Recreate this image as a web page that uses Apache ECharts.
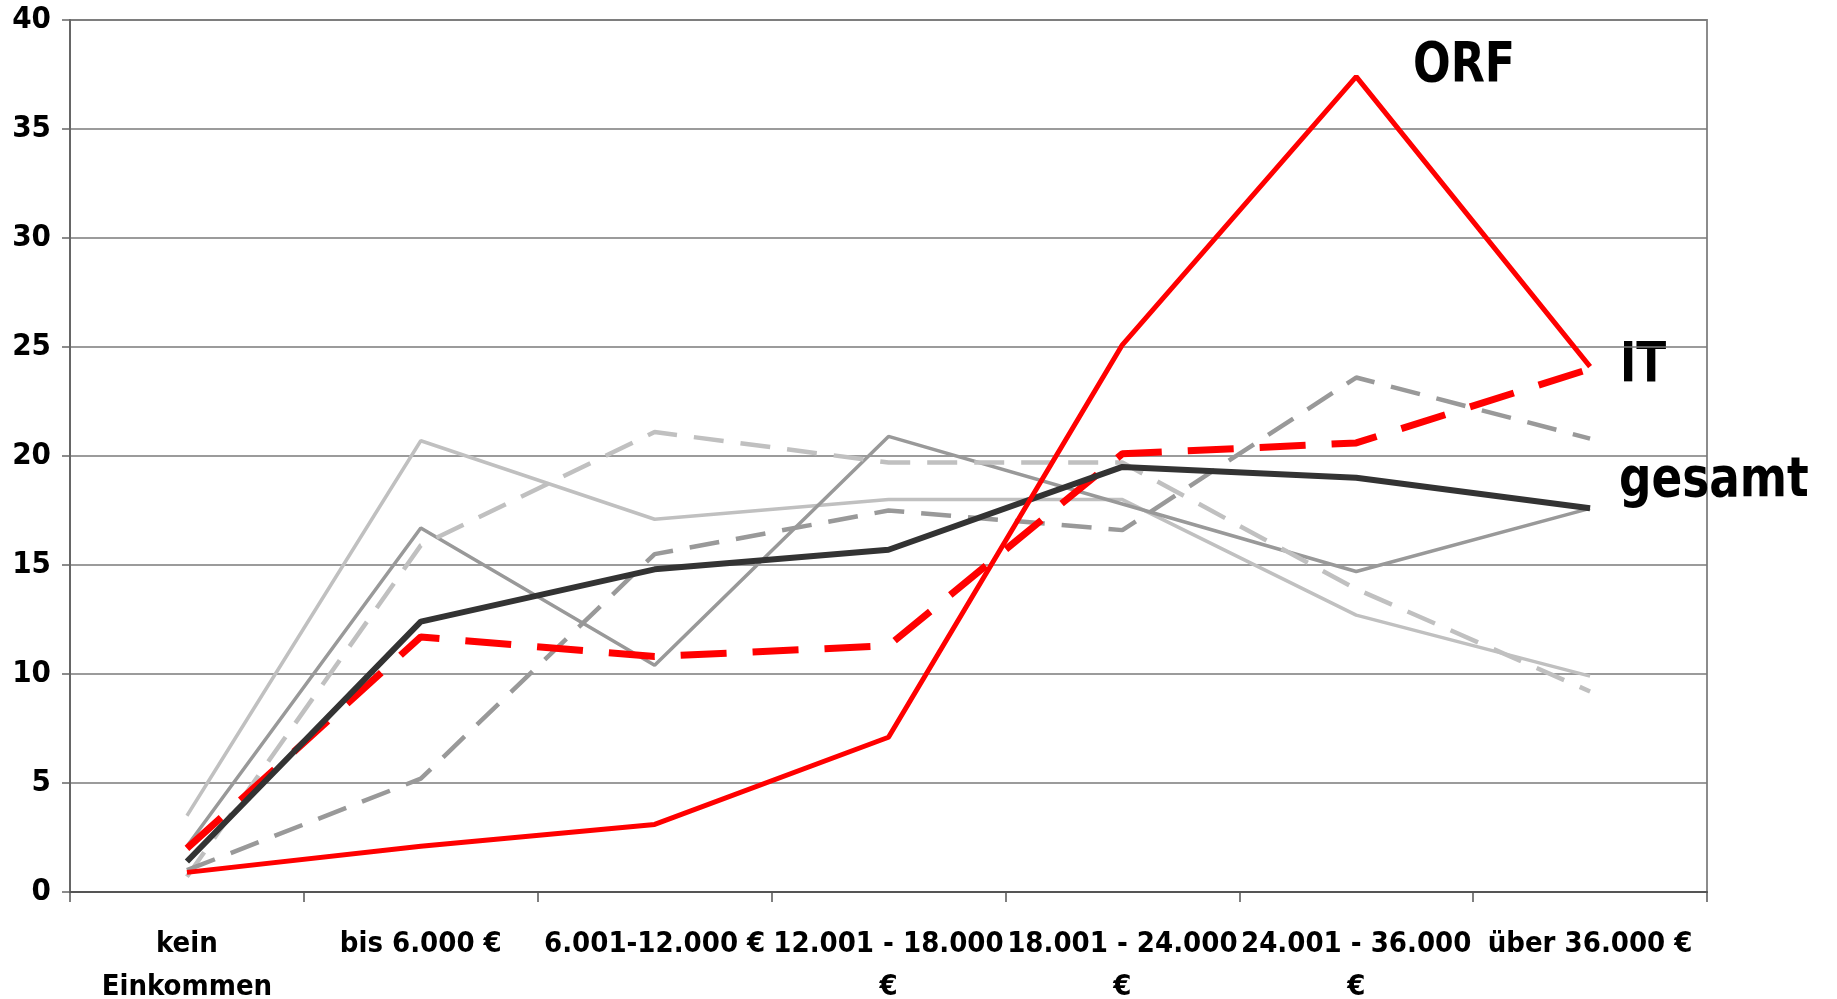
<!DOCTYPE html>
<html>
<head>
<meta charset="utf-8">
<script src="https://cdn.jsdelivr.net/npm/echarts@6/dist/echarts.min.js"></script>
<style>
  html, body { margin: 0; padding: 0; background: #fff; }
  #chart { width: 1837px; height: 999px; }
</style>
</head>
<body>
<div id="chart"></div>
<script>
const categories = ['kein\nEinkommen', 'bis 6.000 €', '6.001-12.000 €', '12.001 - 18.000\n€', '18.001 - 24.000\n€', '24.001 - 36.000\n€', 'über 36.000 €'];
const yTicks = [0, 5, 10, 15, 20, 25, 30, 35, 40];

const orf            = [0.9, 2.1, 3.1, 7.1, 25.1, 37.4, 24.1];
const it             = [2.0, 11.7, 10.8, 11.3, 20.1, 20.6, 24.0];
const gesamt         = [1.4, 12.4, 14.8, 15.7, 19.5, 19.0, 17.6];
const grayLightSolid = [3.5, 20.7, 17.1, 18.0, 18.0, 12.7, 9.9];
const grayMidSolid   = [2.1, 16.7, 10.4, 20.9, 17.8, 14.7, 17.6];
const grayLightDash  = [0.7, 15.9, 21.1, 19.7, 19.7, 13.9, 9.2];
const grayMidDash    = [1.0, 5.2, 15.5, 17.5, 16.6, 23.6, 20.8];

const seriesLabels = ['ORF', 'IT', 'gesamt'];

const FONT = "'DejaVu Sans Condensed', 'DejaVu Sans', sans-serif";

function line(name, data, color, width, type, z) {
  return {
    name, type: 'line', data, symbol: 'none', z,
    lineStyle: { color, width, type: type || 'solid' },
    emphasis: { disabled: true }, silent: true, animation: false
  };
}

function bigLabel(text, x, y, sx) {
  return { type: 'text', x, y, scaleX: sx, style: { text, font: `bold 56px ${FONT}`, fill: '#000', verticalAlign: 'top' } };
}

const chart = echarts.init(document.getElementById('chart'), null, { renderer: 'canvas' });
chart.setOption({
  animation: false,
  backgroundColor: '#ffffff',
  grid: { left: 70, right: 130, top: 20, bottom: 107, outerBoundsMode: 'none', containLabel: false,
    show: true, borderColor: '#8c8c8c', borderWidth: 2, backgroundColor: 'transparent' },
  xAxis: {
    type: 'category', data: categories, boundaryGap: true,
    axisLine: { lineStyle: { color: '#555', width: 2 } },
    axisTick: { show: true, length: 10, interval: 0, lineStyle: { color: '#555', width: 1.5 } },
    axisLabel: { interval: 0, margin: 31, color: '#000', fontFamily: FONT, fontWeight: 'bold', fontSize: 29, lineHeight: 43, hideOverlap: false },
    splitLine: { show: false }
  },
  yAxis: {
    type: 'value', min: yTicks[0], max: yTicks[yTicks.length - 1], interval: 5,
    axisLine: { show: true, lineStyle: { color: '#666', width: 2 } },
    axisTick: { show: true, length: 8, lineStyle: { color: '#666', width: 1.5 } },
    axisLabel: { margin: 19, color: '#000', fontFamily: FONT, fontWeight: 'bold', fontSize: 31,
      formatter: v => yTicks.includes(v) ? String(v) : '' },
    splitLine: { show: true, lineStyle: { color: '#7a7a7a', width: 1.5 } }
  },
  series: [
    line('grau hell', grayLightSolid, '#c0c0c0', 3.5, 'solid', 2),
    line('grau mittel', grayMidSolid, '#999999', 3.5, 'solid', 2),
    line('grau hell gestrichelt', grayLightDash, '#c0c0c0', 4.5, [30, 17], 2),
    line('grau mittel gestrichelt', grayMidDash, '#999999', 4.5, [30, 17], 2),
    line('IT', it, '#ff0000', 7, [46, 26], 3),
    line('gesamt', gesamt, '#333333', 6, 'solid', 4),
    line('ORF', orf, '#ff0000', 5, 'solid', 5)
  ],
  graphic: [
    bigLabel(seriesLabels[0], 1413, 38, 0.88),
    bigLabel(seriesLabels[1], 1620, 338, 0.87),
    bigLabel(seriesLabels[2], 1619, 453, 0.9)
  ]
});
</script>
</body>
</html>
